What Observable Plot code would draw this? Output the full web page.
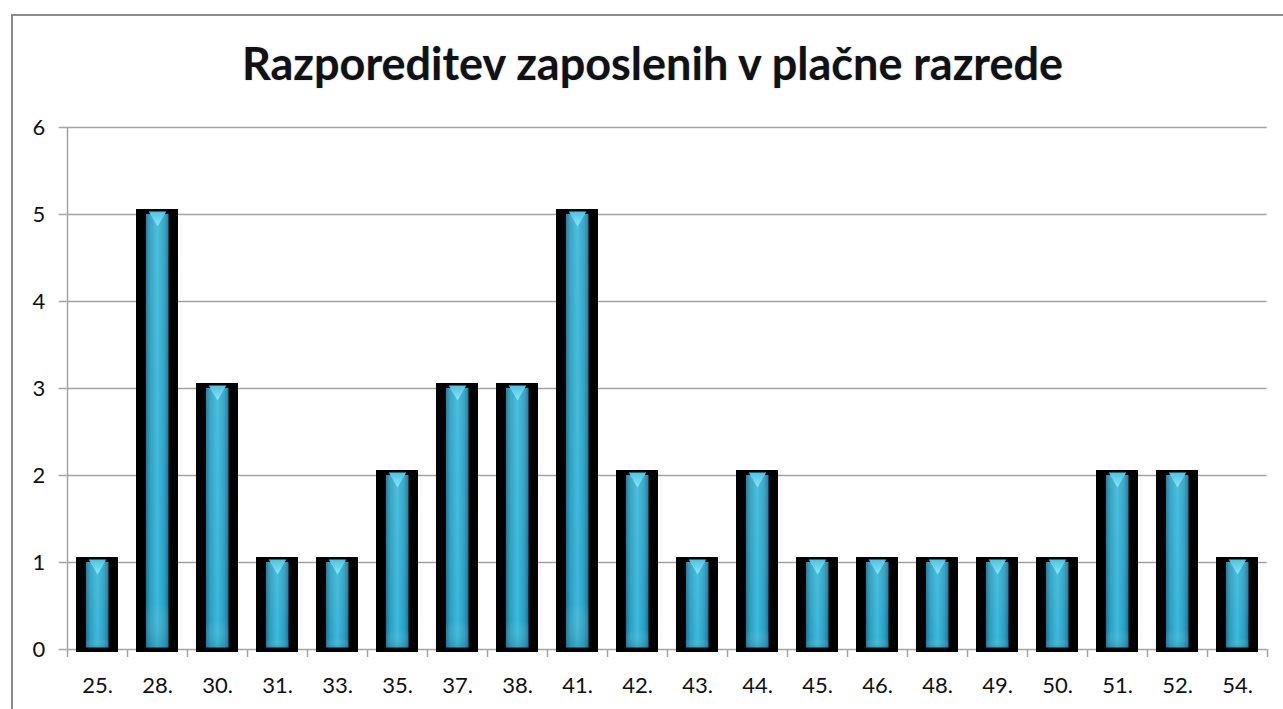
<!DOCTYPE html>
<html>
<head>
<meta charset="utf-8">
<script src="https://cdn.jsdelivr.net/npm/d3@7"></script>
<script src="https://cdn.jsdelivr.net/npm/@observablehq/plot@0.6"></script>
<style>
  html, body { margin: 0; padding: 0; background: #fff; overflow: hidden; }
  #frame { position: absolute; left: 11px; top: 14px; width: 1300px; height: 720px; border: 2px solid #8c8c8c; box-sizing: border-box; }
  #title { position: absolute; left: 11px; top: 36px; width: 1283px; text-align: center;
    font-family: Lato, "Noto Sans", sans-serif; font-weight: 700; font-size: 45px; color: #111;
    text-shadow: 0 0 2px rgba(120,160,200,0.5); }
  #chart { position: absolute; left: 0; top: 100px; }
</style>
</head>
<body>
<div id="frame"></div>
<div id="title">Razporeditev zaposlenih v plačne razrede</div>
<div id="chart"></div>
<script>
const categories = ["25.", "28.", "30.", "31.", "33.", "35.", "37.", "38.", "41.", "42.", "43.", "44.", "45.", "46.", "48.", "49.", "50.", "51.", "52.", "54."];
const counts = [1, 5, 3, 1, 1, 2, 3, 3, 5, 2, 1, 2, 1, 1, 1, 1, 1, 2, 2, 1];
const yTicks = [0, 1, 2, 3, 4, 5, 6];

const data = categories.map((c, i) => ({razred: c, n: counts[i]}));

const W = 1283, H = 609, ML = 66.7, MR = 16.3, MT = 27, MB = 60;
const halfBand = (W - ML - MR) / categories.length / 2;
const gridColor = "#a3a3a3";

const plot = Plot.plot({
  width: W, height: H,
  marginLeft: ML, marginRight: MR, marginTop: MT, marginBottom: MB,
  style: {fontFamily: "Lato, 'Noto Sans', sans-serif", fontSize: "22px", color: "#111", background: "transparent"},
  x: {domain: categories, padding: 0, label: null},
  y: {domain: [0, 6], label: null},
  marks: [
    Plot.gridY(yTicks, {stroke: gridColor, strokeOpacity: 1, strokeWidth: 1.5}),
    Plot.axisY(yTicks, {tickSize: 8, tickPadding: 14, tickFormat: d3.format("d"), stroke: gridColor, strokeWidth: 1.5, fill: "#111", fontSize: 22, label: null}),
    Plot.ruleX([categories[0]], {x: d => d, y1: 6, y2: 0, dx: -halfBand, insetBottom: -8, stroke: gridColor, strokeWidth: 1.5}),
    Plot.ruleX(categories.slice(1), {x: d => d, y1: 0, y2: 0, dx: -halfBand, insetBottom: -8, stroke: gridColor, strokeWidth: 1.5}),
    Plot.ruleX([categories[categories.length - 1]], {x: d => d, y1: 0, y2: 0, dx: halfBand, insetBottom: -8, stroke: gridColor, strokeWidth: 1.5}),
    Plot.barY(data, {x: "razred", y: "n", fill: "#000", insetLeft: 9, insetRight: 9, insetTop: -5, insetBottom: -3}),
    Plot.barY(data, {x: "razred", y: "n", fill: "url(#cyanGrad)", insetLeft: 19, insetRight: 18.5, insetBottom: 1.5}),
    Plot.barY(data, {x: "razred", y: "n", fill: "url(#cyanShade)", insetLeft: 19, insetRight: 18.5, insetBottom: 1.5}),
    Plot.dot(data, {x: "razred", y: "n", symbol: "triangle", rotate: 180, r: 6.5, dy: 2, fill: "url(#tipGrad)", stroke: "none"}),
    Plot.axisX({tickSize: 0, tickPadding: 28, fontSize: 22, fill: "#111", label: null})
  ]
});

const ns = "http://www.w3.org/2000/svg";
const defs = document.createElementNS(ns, "defs");
defs.innerHTML = `
  <linearGradient id="cyanGrad" x1="0" x2="1" y1="0" y2="0">
    <stop offset="0" stop-color="#1b7390"/>
    <stop offset="0.18" stop-color="#2a9dbf"/>
    <stop offset="0.5" stop-color="#3bbadb"/>
    <stop offset="0.82" stop-color="#2a9dbf"/>
    <stop offset="1" stop-color="#1b7390"/>
  </linearGradient>
  <linearGradient id="cyanShade" x1="0" x2="0" y1="0" y2="1">
    <stop offset="0" stop-color="#ffffff" stop-opacity="0.08"/>
    <stop offset="0.9" stop-color="#ffffff" stop-opacity="0"/>
    <stop offset="1" stop-color="#1b6f8a" stop-opacity="0.25"/>
  </linearGradient>
  <linearGradient id="tipGrad" x1="0" x2="0" y1="0" y2="1">
    <stop offset="0" stop-color="#8ee6f7"/>
    <stop offset="1" stop-color="#4cc4e2"/>
  </linearGradient>`;
plot.insertBefore(defs, plot.firstChild);
document.getElementById("chart").appendChild(plot);
</script>
</body>
</html>
